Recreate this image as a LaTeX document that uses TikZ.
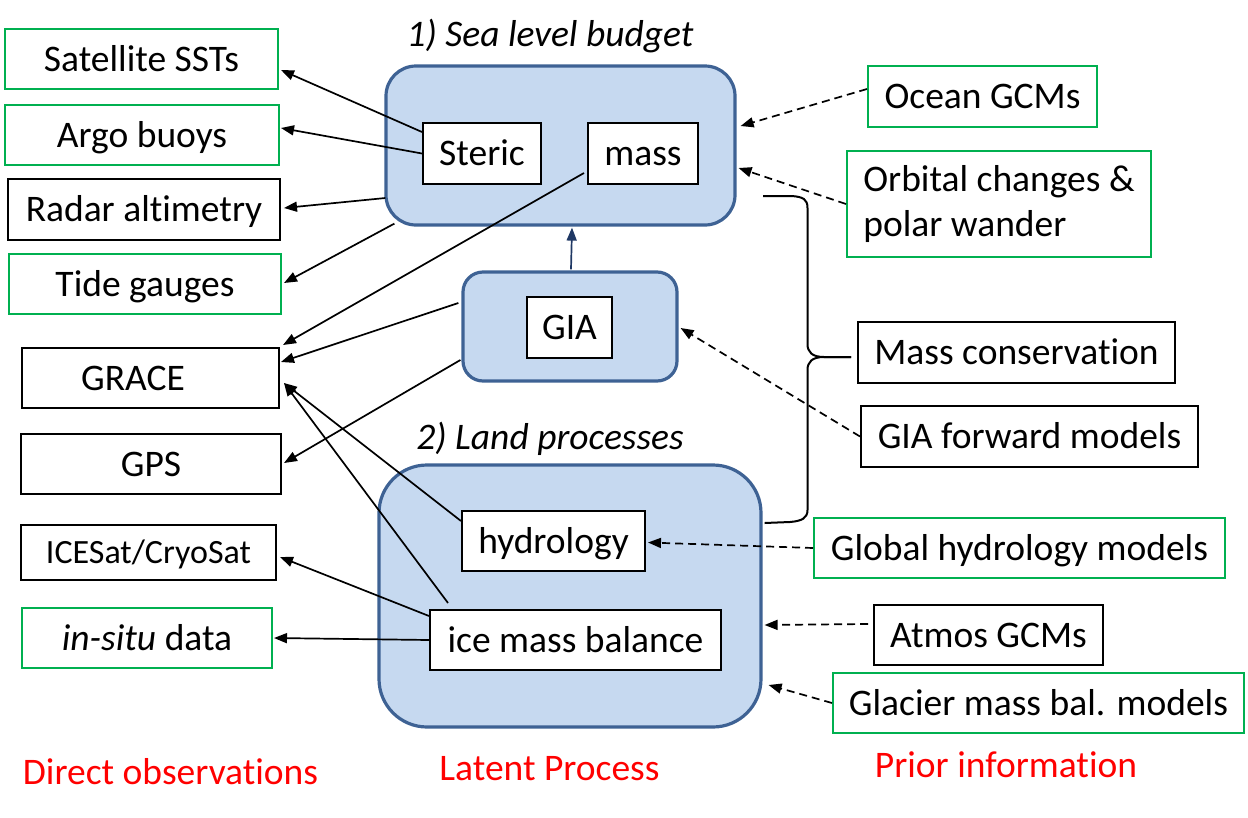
\documentclass[tikz,border=0pt]{standalone}
\usepackage{fontspec}
\setmainfont{Carlito}[Ligatures=NoCommon]
\usetikzlibrary{arrows.meta,calc}
\definecolor{obsgreen}{RGB}{0,176,80}
\definecolor{latfill}{RGB}{198,217,240}
\definecolor{latdraw}{RGB}{62,98,148}
\definecolor{navy}{RGB}{31,56,100}
\begin{document}
\begin{tikzpicture}[x=1pt,y=-1pt,
  every node/.style={font=\fontsize{37.5}{45}\selectfont},
  bx/.style={draw=black, line width=2pt, inner sep=0pt, text height=24pt, text depth=0pt, fill=white},
  gbx/.style={bx, draw=obsgreen},
  latent/.style={draw=latdraw, fill=latfill, line width=3.2pt, inner sep=0pt},
  lbl/.style={inner sep=0pt, text height=24pt, text depth=0pt},
  conn/.style={line width=1.7pt, -{Triangle[length=13pt,width=10pt]}},
  dconn/.style={conn, dash pattern=on 8pt off 5pt},
  bracestyle/.style={line width=2pt},
]
\useasboundingbox (0,0) rectangle (1248,817);

% latent process boxes
\node[latent, rounded corners=30pt, minimum width=349, minimum height=159] (sea) at (560.5,145.5) {};
\node[latent, rounded corners=20pt, minimum width=214, minimum height=109] (giabox) at (570,326.5) {};
\node[latent, rounded corners=48pt, minimum width=382, minimum height=262] (land) at (570,596) {};

\node[bx, minimum width=118, minimum height=61] (steric) at (482,153.5) {Steric};
\node[bx, minimum width=110, minimum height=61] (mass) at (643,153.5) {mass};
\node[bx, minimum width=85, minimum height=61] (gia) at (569.5,327.5) {GIA};
\node[bx, minimum width=183, minimum height=60] (hydro) at (553.5,541) {hydrology};
\node[bx, minimum width=291, minimum height=60] (ice) at (575.5,640) {ice mass balance};

\node[lbl, font=\fontsize{37.5}{45}\selectfont\itshape] (t1) at (550,34) {1) Sea level budget};
\node[lbl, font=\fontsize{37.5}{45}\selectfont\itshape] (t2) at (550,437.5) {2) Land processes};

% direct observations
\node[gbx, minimum width=273, minimum height=60] (sst) at (141.5,59) {Satellite SSTs};
\node[gbx, minimum width=274, minimum height=60] (argo) at (142,135) {Argo buoys};
\node[bx, minimum width=272, minimum height=61] (radar) at (144,209.5) {Radar altimetry};
\node[gbx, minimum width=272, minimum height=60] (tide) at (145,284) {Tide gauges};
\node[bx, minimum width=257, minimum height=60] (grace) at (150.5,378) {\kern-35pt GRACE};
\node[bx, minimum width=260, minimum height=60] (gps) at (151,464) {GPS};
\node[bx, minimum width=255, minimum height=55, text height=22pt, font=\fontsize{34}{41}\selectfont] (icesat) at (148.5,552.5) {ICESat/CryoSat};
\node[gbx, minimum width=250, minimum height=60] (insitu) at (147,638) {\textit{in-situ} data};

% prior information
\node[gbx, minimum width=229, minimum height=61] (ocean) at (982.5,96.5) {Ocean GCMs};
\node[draw=obsgreen, line width=2pt, fill=white, inner sep=0pt, align=left, minimum width=304, minimum height=106] (orbital) at (999,204) {Orbital changes \&\\polar wander};
\node[bx, minimum width=317, minimum height=61] (masscons) at (1016.5,352.5) {Mass conservation};
\node[bx, minimum width=337, minimum height=61] (giafwd) at (1029.5,436.5) {GIA forward models};
\node[gbx, minimum width=411, minimum height=60] (globhyd) at (1019.5,548) {Global hydrology models};
\node[bx, minimum width=229, minimum height=60] (atmos) at (988.5,635) {Atmos GCMs};
\node[gbx, minimum width=411, minimum height=60] (glacier) at (1038.5,703) {Glacier mass bal. models};

% column labels
\node[lbl, text=red] (dirobs) at (170.5,772) {Direct observations};
\node[lbl, text=red] (latproc) at (549.5,768) {Latent Process};
\node[lbl, text=red] (prior) at (1006,765) {Prior information};

% observation connectors
\draw[conn] ([yshift=-10pt]steric.north west) -- ([xshift=2pt,yshift=-11pt]sst.east);
\draw[conn] (steric.west) -- ([xshift=1pt,yshift=7pt]argo.east);
\draw[conn] ([xshift=1pt,yshift=-52.5pt]sea.west) -- ([xshift=3pt,yshift=1.5pt]radar.east);
\draw[conn] ([xshift=10pt,yshift=3pt]sea.south west) -- ([xshift=2pt,yshift=1pt]tide.east);
\draw[conn] ([xshift=-3pt,yshift=-19.5pt]mass.west) -- ([xshift=3pt,yshift=2pt]grace.north east);
\draw[conn] ([xshift=-3pt,yshift=23.5pt]giabox.west) -- ([xshift=1pt,yshift=16pt]grace.east);
\draw[conn] ([xshift=-1pt,yshift=-33.5pt]giabox.west) -- ([xshift=2pt,yshift=1pt]gps.east);
\draw[conn] ([yshift=20pt]hydro.west) -- ([xshift=4pt,yshift=-5pt]grace.east);
\draw[conn] ([xshift=19pt,yshift=6pt]ice.north west) -- ([xshift=4pt,yshift=-5pt]grace.east);
\draw[conn] ([yshift=-7pt]ice.north west) -- ([xshift=3pt,yshift=-4.5pt]icesat.east);
\draw[conn] (ice.west) -- ([xshift=1pt]insitu.east);

% GIA to sea level
\draw[line width=1.7pt, draw=navy, -{Triangle[length=13pt,width=10pt]}] ([xshift=1pt,yshift=1pt]giabox.north) -- ([xshift=11.5pt,yshift=-1pt]sea.south);

% prior connectors
\draw[dconn] ([yshift=7.5pt]ocean.west) -- ([xshift=4pt,yshift=19.5pt]sea.east);
\draw[dconn] (orbital.west) -- ([xshift=2pt,yshift=-22.5pt]sea.east);
\draw[dconn] (giafwd.west) -- ([xshift=2pt,yshift=-1.5pt]giabox.east);
\draw[dconn] (globhyd.west) -- ([xshift=2pt,yshift=-1.5pt]hydro.east);
\draw[dconn] ([xshift=-5pt,yshift=11pt]atmos.west) -- ([xshift=2pt,yshift=-29pt]land.east);
\draw[dconn] (glacier.west) -- ([xshift=6pt,yshift=-89pt]land.east);

% brace for mass conservation
\coordinate (braceTop) at (763,196);
\coordinate (braceBot) at ([xshift=2pt,yshift=73pt]land.east);
\coordinate (braceTip) at ([xshift=-6pt,yshift=-4.5pt]masscons.west);
\draw[bracestyle] (braceTop) -- (792,196) .. controls (803,197) and (807.5,199) .. (807.5,208)
  -- (807.5,344) .. controls (807.5,352) and (812,357) .. (824,357) -- (braceTip);
\draw[bracestyle] (braceTip) -- (824,357) .. controls (812,357) and (807.5,362) .. (807.5,370)
  -- (807.5,510) .. controls (807.5,518) and (802,521) .. (790,522) -- (braceBot);
\end{tikzpicture}
\end{document}
